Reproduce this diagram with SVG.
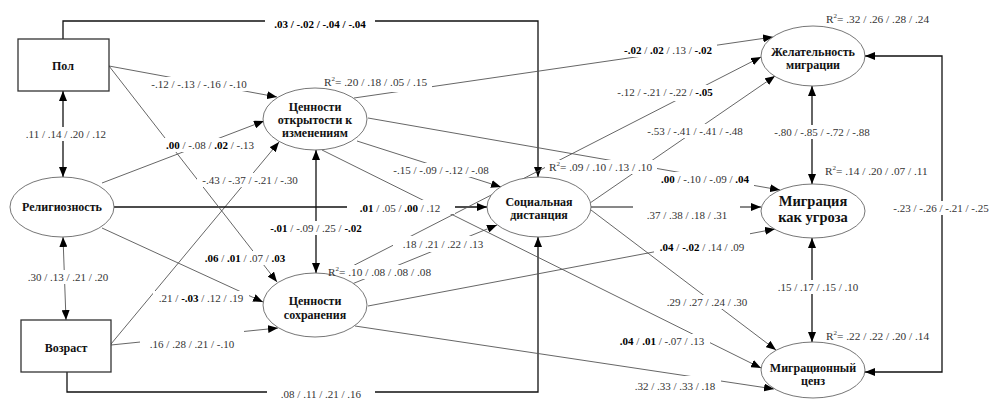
<svg xmlns="http://www.w3.org/2000/svg" width="994" height="399" viewBox="0 0 994 399" font-family="'Liberation Serif', 'DejaVu Serif', serif">
<style>
.c{stroke:#555;stroke-width:0.9;fill:none}
.k{stroke:#111;stroke-width:1.3;fill:none}
.g{stroke:#666;stroke-width:1;fill:none}
.box{fill:#fff;stroke:#333;stroke-width:1.3}
.ell{fill:#fff;stroke:#666;stroke-width:0.9}
.bg{fill:#fff}
.nt{font-size:12px;font-weight:bold;fill:#111;text-anchor:middle}
.big{font-size:14.5px}
.lb{font-size:11px;fill:#333;text-anchor:middle}
.r{font-size:11.3px;fill:#333}
.b{font-weight:bold;fill:#000}
</style>
<defs>
<marker id="ah" viewBox="0 0 10 8" refX="10" refY="4" markerWidth="10" markerHeight="8" markerUnits="userSpaceOnUse" orient="auto-start-reverse"><path d="M0,0 L10,4 L0,8 z" fill="#000"/></marker>
</defs>
<rect width="994" height="399" fill="#fff"/>
<g id="connectors">
<path class="k" d="M63,39 V21 H538 V177" marker-end="url(#ah)"/>
<path class="c" d="M109,66 L277,97" marker-end="url(#ah)"/>
<path class="k" d="M63,91 V177" marker-start="url(#ah)" marker-end="url(#ah)"/>
<path class="c" d="M102,183 L264,121" marker-end="url(#ah)"/>
<path class="c" d="M111,344 L279,142" marker-end="url(#ah)"/>
<path class="k" d="M114,207 H487" marker-end="url(#ah)"/>
<path class="k" d="M316,150 V273" marker-start="url(#ah)" marker-end="url(#ah)"/>
<path class="c" d="M109,66 L277,282" marker-end="url(#ah)"/>
<path class="g" d="M63,237 L66,320" marker-start="url(#ah)" marker-end="url(#ah)"/>
<path class="c" d="M102,228 L263,302" marker-end="url(#ah)"/>
<path class="c" d="M111,345 L278,328" marker-end="url(#ah)"/>
<path class="k" d="M67,372 V392 H538 V237" marker-end="url(#ah)"/>
<path class="c" d="M354,98 L773,37" marker-end="url(#ah)"/>
<path class="c" d="M335,275 L761,57" marker-end="url(#ah)"/>
<path class="c" d="M590,203 L775,76" marker-end="url(#ah)"/>
<path class="c" d="M357,141 L501,187" marker-end="url(#ah)"/>
<path class="c" d="M368,118 L780,190" marker-end="url(#ah)"/>
<path class="k" style="stroke-width:1" d="M591,207 H761" marker-end="url(#ah)"/>
<path class="c" d="M352,284 L497,225" marker-end="url(#ah)"/>
<path class="c" d="M368,306 L775,229" marker-end="url(#ah)"/>
<path class="c" d="M591,210 L776,350" marker-end="url(#ah)"/>
<path class="c" d="M322,150 L761,368" marker-end="url(#ah)"/>
<path class="c" d="M355,326 L774,389" marker-end="url(#ah)"/>
<path class="k" d="M812,86 V184" marker-start="url(#ah)" marker-end="url(#ah)"/>
<path class="k" d="M812,238 V342" marker-start="url(#ah)" marker-end="url(#ah)"/>
<path class="k" d="M865,56 H942 V372 H865" marker-start="url(#ah)" marker-end="url(#ah)"/>
</g>
<g id="label-backgrounds">
<rect class="bg" x="265" y="15" width="110" height="16"/>
<rect class="bg" x="146" y="77" width="106" height="14"/>
<rect class="bg" x="20" y="127" width="92" height="14"/>
<rect class="bg" x="161" y="138" width="98" height="14"/>
<rect class="bg" x="197" y="173" width="106" height="14"/>
<rect class="bg" x="347" y="200" width="108" height="14"/>
<rect class="bg" x="265" y="221" width="102" height="14"/>
<rect class="bg" x="199" y="251" width="92" height="14"/>
<rect class="bg" x="22" y="270" width="92" height="14"/>
<rect class="bg" x="153" y="291" width="96" height="14"/>
<rect class="bg" x="140" y="330" width="104" height="21"/>
<rect class="bg" x="267" y="386" width="108" height="13"/>
<rect class="bg" x="619" y="43" width="98" height="14"/>
<rect class="bg" x="612" y="85" width="106" height="16"/>
<rect class="bg" x="642" y="124" width="106" height="14"/>
<rect class="bg" x="388" y="163" width="106" height="14"/>
<rect class="bg" x="656" y="172" width="98" height="14"/>
<rect class="bg" x="633" y="204" width="107" height="19"/>
<rect class="bg" x="393" y="236" width="100" height="16"/>
<rect class="bg" x="654" y="233" width="96" height="21"/>
<rect class="bg" x="661" y="295" width="92" height="14"/>
<rect class="bg" x="614" y="334" width="96" height="14"/>
<rect class="bg" x="629" y="376" width="92" height="17"/>
<rect class="bg" x="769" y="125" width="106" height="14"/>
<rect class="bg" x="772" y="280" width="92" height="14"/>
<rect class="bg" x="888" y="201" width="106" height="14"/>
<rect class="bg" x="320" y="75" width="112" height="17"/>
<rect class="bg" x="324" y="265" width="112" height="14"/>
<rect class="bg" x="545" y="160" width="112" height="14"/>
<rect class="bg" x="822" y="12" width="112" height="14"/>
<rect class="bg" x="821" y="164" width="112" height="14"/>
<rect class="bg" x="822" y="329" width="112" height="14"/>
</g>
<g id="node-pol"><rect class="box" x="18" y="39" width="91" height="52"/><text class="nt" x="63" y="70">Пол</text></g>
<g id="node-vozrast"><rect class="box" x="21" y="320" width="90" height="52"/><text class="nt" x="66" y="352">Возраст</text></g>
<g id="node-religioznost"><ellipse class="ell" cx="62" cy="207" rx="52" ry="30"/><text class="nt" x="62" y="211">Религиозность</text></g>
<g id="node-otkrytost"><ellipse class="ell" cx="315" cy="119" rx="52" ry="31"/><text class="nt" x="315" y="111">Ценности</text><text class="nt" x="315" y="124">открытости к</text><text class="nt" x="315" y="137">изменениям</text></g>
<g id="node-sokhranenie"><ellipse class="ell" cx="315" cy="305" rx="52" ry="32"/><text class="nt" x="315" y="305">Ценности</text><text class="nt" x="315" y="319">сохранения</text></g>
<g id="node-distantsiya"><ellipse class="ell" cx="539" cy="207" rx="52" ry="30"/><text class="nt" x="539" y="206">Социальная</text><text class="nt" x="539" y="219">дистанция</text></g>
<g id="node-zhelatelnost"><ellipse class="ell" cx="813" cy="56" rx="52" ry="30"/><text class="nt" x="813" y="56">Желательность</text><text class="nt" x="813" y="69">миграции</text></g>
<g id="node-ugroza"><ellipse class="ell" cx="813" cy="211" rx="52" ry="27"/><text class="nt big" x="813" y="206">Миграция</text><text class="nt big" x="813" y="222">как угроза</text></g>
<g id="node-tsenz"><ellipse class="ell" cx="813" cy="370" rx="52" ry="28"/><text class="nt" x="813" y="372">Миграционный</text><text class="nt" x="813" y="385">ценз</text></g>
<g id="labels">
<text class="lb b" x="320" y="28">.03 / -.02 / -.04 / -.04</text>
<text class="lb" x="199" y="88">-.12 / -.13 / -.16 / -.10</text>
<text class="lb" x="66" y="138">.11 / .14 / .20 / .12</text>
<text class="lb" x="210" y="149"><tspan class="b">.00</tspan> / -.08 / <tspan class="b">.02</tspan> / -.13</text>
<text class="lb" x="250" y="184">-.43 / -.37 / -.21 / -.30</text>
<text class="lb" x="400" y="212"><tspan class="b">.01</tspan> / .05 / <tspan class="b">.00</tspan> / .12</text>
<text class="lb" x="316" y="232"><tspan class="b">-.01</tspan> / -.09 / .25 / <tspan class="b">-.02</tspan></text>
<text class="lb" x="245" y="262"><tspan class="b">.06</tspan> / <tspan class="b">.01</tspan> / .07 / <tspan class="b">.03</tspan></text>
<text class="lb" x="68" y="281">.30 / .13 / .21 / .20</text>
<text class="lb" x="201" y="302">.21 / <tspan class="b">-.03</tspan> / .12 / .19</text>
<text class="lb" x="192" y="348">.16 / .28 / .21 / -.10</text>
<text class="lb" x="321" y="398">.08 / .11 / .21 / .16</text>
<text class="lb" x="668" y="54"><tspan class="b">-.02</tspan> / <tspan class="b">.02</tspan> / .13 / <tspan class="b">-.02</tspan></text>
<text class="lb" x="665" y="96">-.12 / -.21 / -.22 / <tspan class="b">-.05</tspan></text>
<text class="lb" x="695" y="135">-.53 / -.41 / -.41 / -.48</text>
<text class="lb" x="441" y="174">-.15 / -.09 / -.12 / -.08</text>
<text class="lb" x="705" y="183"><tspan class="b">.00</tspan> / -.10 / -.09 / <tspan class="b">.04</tspan></text>
<text class="lb" x="687" y="219">.37 / .38 / .18 / .31</text>
<text class="lb" x="443" y="248">.18 / .21 / .22 / .13</text>
<text class="lb" x="702" y="251"><tspan class="b">.04</tspan> / <tspan class="b">-.02</tspan> / .14 / .09</text>
<text class="lb" x="707" y="306">.29 / .27 / .24 / .30</text>
<text class="lb" x="662" y="345"><tspan class="b">.04</tspan> / <tspan class="b">.01</tspan> / -.07 / .13</text>
<text class="lb" x="675" y="390">.32 / .33 / .33 / .18</text>
<text class="lb" x="822" y="136">-.80 / -.85 / -.72 / -.88</text>
<text class="lb" x="818" y="291">.15 / .17 / .15 / .10</text>
<text class="lb" x="941" y="212">-.23 / -.26 / -.21 / -.25</text>
<text class="r" x="324" y="86">R<tspan font-size="7" dy="-5">2</tspan><tspan dy="5">= .20 / .18 / .05 / .15</tspan></text>
<text class="r" x="328" y="276">R<tspan font-size="7" dy="-5">2</tspan><tspan dy="5">= .10 / .08 / .08 / .08</tspan></text>
<text class="r" x="549" y="171">R<tspan font-size="7" dy="-5">2</tspan><tspan dy="5">= .09 / .10 / .13 / .10</tspan></text>
<text class="r" x="826" y="23">R<tspan font-size="7" dy="-5">2</tspan><tspan dy="5">= .32 / .26 / .28 / .24</tspan></text>
<text class="r" x="825" y="175">R<tspan font-size="7" dy="-5">2</tspan><tspan dy="5">= .14 / .20 / .07 / .11</tspan></text>
<text class="r" x="826" y="340">R<tspan font-size="7" dy="-5">2</tspan><tspan dy="5">= .22 / .22 / .20 / .14</tspan></text>
</g>
</svg>
